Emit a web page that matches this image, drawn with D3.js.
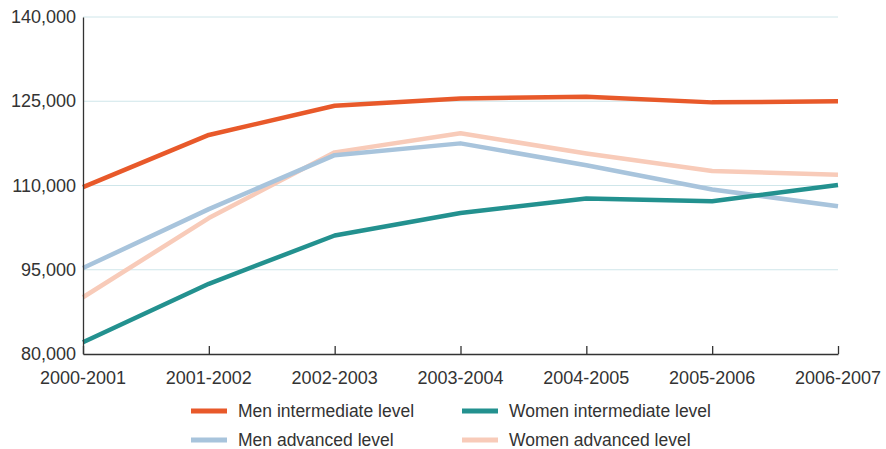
<!DOCTYPE html>
<html>
<head>
<meta charset="utf-8">
<script src="https://cdn.jsdelivr.net/npm/d3@7"></script>
<style>
  body { margin: 0; background: #fff; }
  svg { display: block; }
  svg text { font-family: "Liberation Sans", Arial, sans-serif; fill: #333; }
</style>
</head>
<body>
<svg id="chart"></svg>
<script>
var years = ["2000-2001", "2001-2002", "2002-2003", "2003-2004", "2004-2005", "2005-2006", "2006-2007"];
var yTicks = [80000, 95000, 110000, 125000, 140000];

var menIntermediate   = [109700, 119000, 124200, 125500, 125800, 124800, 125000];
var womenIntermediate = [82100, 92500, 101100, 105100, 107700, 107200, 110100];
var menAdvanced       = [95300, 105800, 115400, 117500, 113600, 109300, 106300];
var womenAdvanced     = [90100, 104200, 115900, 119300, 115700, 112600, 111900];

var series = [
  { name: "Women advanced level",     values: womenAdvanced,     color: "#f8cbb9" },
  { name: "Men advanced level",       values: menAdvanced,       color: "#a8c4dc" },
  { name: "Women intermediate level", values: womenIntermediate, color: "#23918f" },
  { name: "Men intermediate level",   values: menIntermediate,   color: "#e8592a" }
];
var legendOrder = [
  { name: "Men intermediate level",   color: "#e8592a", col: 0, row: 0 },
  { name: "Women intermediate level", color: "#23918f", col: 1, row: 0 },
  { name: "Men advanced level",       color: "#a8c4dc", col: 0, row: 1 },
  { name: "Women advanced level",     color: "#f8cbb9", col: 1, row: 1 }
];

var outerWidth = 886, outerHeight = 449;
var margin = { left: 83, top: 17, right: 48, bottom: 95 };
var innerWidth  = outerWidth  - margin.left - margin.right;
var innerHeight = outerHeight - margin.top  - margin.bottom;

var svg = d3.select("#chart")
  .attr("width", outerWidth)
  .attr("height", outerHeight);
var g = svg.append("g")
  .attr("transform", "translate(" + margin.left + "," + margin.top + ")");

// scales in page coordinates
var xScale = d3.scalePoint().domain(years).range([margin.left, margin.left + innerWidth]);
var yScale = d3.scaleLinear().domain([80000, 140000]).range([margin.top + innerHeight, margin.top]);

var plot = svg.append("g");

// grid lines
plot.selectAll(".grid").data(yTicks.slice(1)).enter().append("line")
  .attr("class", "grid")
  .attr("x1", margin.left).attr("x2", margin.left + innerWidth)
  .attr("y1", function (d){ return yScale(d); })
  .attr("y2", function (d){ return yScale(d); })
  .attr("stroke", "#cfe6ea").attr("stroke-width", 1);

// lines
var line = d3.line()
  .x(function (d, i){ return xScale(years[i]); })
  .y(function (d){ return yScale(d); });

plot.selectAll(".series").data(series).enter().append("path")
  .attr("class", "series")
  .attr("d", function (d){ return line(d.values); })
  .attr("fill", "none")
  .attr("stroke", function (d){ return d.color; })
  .attr("stroke-width", 4.5)
  .attr("stroke-linejoin", "round");

// y axis (line only)
var yAxisG = svg.append("g")
  .attr("transform", "translate(" + margin.left + ",0)")
  .call(d3.axisLeft(yScale).tickValues(yTicks).tickSize(0).tickFormat(""));
yAxisG.select(".domain").attr("stroke", "#333").attr("stroke-width", 1.3);

// x axis (line + inner ticks)
var xAxisG = svg.append("g")
  .attr("transform", "translate(0," + (margin.top + innerHeight) + ")")
  .call(d3.axisBottom(xScale).tickSizeInner(-8).tickSizeOuter(0).tickFormat(""));
xAxisG.select(".domain").attr("stroke", "#333").attr("stroke-width", 1.3);
xAxisG.selectAll(".tick line").attr("stroke", "#333").attr("stroke-width", 1.3);

// tick labels
var fmt = d3.format(",");
svg.selectAll(".ylabel").data(yTicks).enter().append("text")
  .attr("class", "ylabel")
  .attr("x", margin.left - 7)
  .attr("y", function (d){ return yScale(d) + 6; })
  .attr("text-anchor", "end")
  .attr("font-size", 18)
  .text(function (d){ return fmt(d); });

svg.selectAll(".xlabel").data(years).enter().append("text")
  .attr("class", "xlabel")
  .attr("x", function (d){ return xScale(d); })
  .attr("y", margin.top + innerHeight + 30)
  .attr("text-anchor", "middle")
  .attr("font-size", 18)
  .text(function (d){ return d; });

// legend
var legend = svg.append("g").selectAll("g").data(legendOrder).enter().append("g")
  .attr("transform", function (d){
    return "translate(" + (191 + d.col * 271) + "," + (411 + d.row * 29) + ")";
  });
legend.append("rect")
  .attr("x", 0).attr("y", -2.5).attr("width", 36).attr("height", 5)
  .attr("fill", function (d){ return d.color; });
legend.append("text")
  .attr("x", 47).attr("dy", "0.35em")
  .attr("font-size", 17.5)
  .text(function (d){ return d.name; });
</script>
</body>
</html>
